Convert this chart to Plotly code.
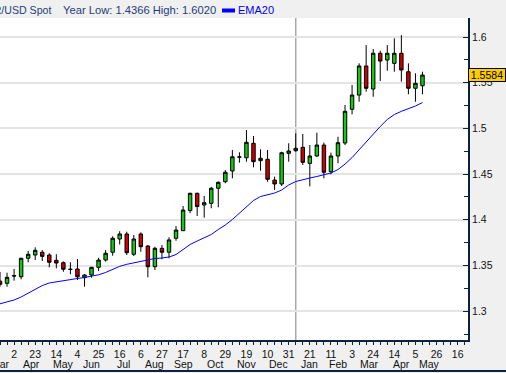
import pandas as pd
import plotly.graph_objects as go

# ---------------- data (weekly candles, Monday dates) ----------------
dates = pd.date_range("2007-03-19", periods=61, freq="7D")

opens = [1.3330, 1.3305, 1.3385, 1.3377, 1.3579, 1.3615, 1.3645, 1.3615, 1.3557, 1.3531,
         1.3460, 1.3462, 1.3367, 1.3396, 1.3480, 1.3560, 1.3645, 1.3790, 1.3845, 1.3623,
         1.3845, 1.3713, 1.3487, 1.3688, 1.3645, 1.3798, 1.3881, 1.4101, 1.4290, 1.4162,
         1.4180, 1.4345, 1.4417, 1.4534, 1.4685, 1.4679, 1.4837, 1.4647, 1.4662, 1.4435,
         1.4392, 1.4727, 1.4756, 1.4793, 1.4618, 1.4698, 1.4818, 1.4526, 1.4698, 1.4840,
         1.5209, 1.5365, 1.5683, 1.5431, 1.5822, 1.5748, 1.5712, 1.5822, 1.5620, 1.5439, 1.5467]
highs = [1.3430, 1.3421, 1.3462, 1.3585, 1.3659, 1.3699, 1.3669, 1.3634, 1.3623, 1.3545,
         1.3535, 1.3571, 1.3405, 1.3485, 1.3585, 1.3669, 1.3820, 1.3875, 1.3870, 1.3834,
         1.3863, 1.3724, 1.3706, 1.3724, 1.3809, 1.3932, 1.4151, 1.4297, 1.4297, 1.4260,
         1.4360, 1.4420, 1.4545, 1.4764, 1.4739, 1.4982, 1.4917, 1.4771, 1.4764, 1.4472,
         1.4745, 1.4837, 1.4946, 1.4939, 1.4818, 1.4953, 1.4845, 1.4735, 1.4909, 1.5256,
         1.5475, 1.5712, 1.5912, 1.5869, 1.5850, 1.5912, 1.5986, 1.6020, 1.5712, 1.5603, 1.5620]
lows = [1.3268, 1.3268, 1.3334, 1.3349, 1.3535, 1.3560, 1.3549, 1.3480, 1.3469, 1.3432,
        1.3404, 1.3341, 1.3268, 1.3367, 1.3439, 1.3542, 1.3607, 1.3730, 1.3615, 1.3604,
        1.3651, 1.3371, 1.3451, 1.3568, 1.3579, 1.3771, 1.3880, 1.4073, 1.4042, 1.4023,
        1.4126, 1.4137, 1.4400, 1.4454, 1.4625, 1.4636, 1.4575, 1.4537, 1.4417, 1.4326,
        1.4370, 1.4636, 1.4745, 1.4600, 1.4366, 1.4690, 1.4454, 1.4498, 1.4618, 1.4818,
        1.5154, 1.5292, 1.5402, 1.5347, 1.5519, 1.5631, 1.5620, 1.5511, 1.5373, 1.5292, 1.5373]
closes = [1.3294, 1.3371, 1.3388, 1.3579, 1.3623, 1.3666, 1.3600, 1.3535, 1.3527, 1.3459,
          1.3457, 1.3377, 1.3396, 1.3480, 1.3560, 1.3634, 1.3798, 1.3845, 1.3640, 1.3790,
          1.3706, 1.3487, 1.3688, 1.3645, 1.3780, 1.3888, 1.4107, 1.4290, 1.4145, 1.4187,
          1.4345, 1.4410, 1.4520, 1.4690, 1.4688, 1.4848, 1.4636, 1.4673, 1.4443, 1.4392,
          1.4734, 1.4753, 1.4782, 1.4629, 1.4698, 1.4818, 1.4520, 1.4698, 1.4844, 1.5187,
          1.5365, 1.5683, 1.5439, 1.5822, 1.5737, 1.5822, 1.5822, 1.5639, 1.5439, 1.5493, 1.5584]
ema20 = [1.3081, 1.3101, 1.3123, 1.3155, 1.3194, 1.3237, 1.3281, 1.3309, 1.3323, 1.3336,
         1.3349, 1.3358, 1.3369, 1.3380, 1.3398, 1.3424, 1.3456, 1.3491, 1.3513, 1.3527,
         1.3544, 1.3560, 1.3577, 1.3582, 1.3593, 1.3620, 1.3675, 1.3730, 1.3768, 1.3801,
         1.3839, 1.3894, 1.3943, 1.4003, 1.4069, 1.4145, 1.4211, 1.4255, 1.4276, 1.4293,
         1.4326, 1.4381, 1.4419, 1.4441, 1.4457, 1.4474, 1.4490, 1.4512, 1.4550, 1.4610,
         1.4681, 1.4769, 1.4857, 1.4939, 1.5021, 1.5097, 1.5152, 1.5187, 1.5212, 1.5245, 1.5283]

last_price = 1.5584
y_tick_vals = [1.3, 1.35, 1.4, 1.45, 1.5, 1.55, 1.6]
y_tick_text = ["1.3", "1.35", "1.4", "1.45", "1.5", "1.55", "1.6"]
month_names = ["Mar", "Apr", "May", "Jun", "Jul", "Aug", "Sep", "Oct", "Nov", "Dec",
               "Jan", "Feb", "Mar", "Apr", "May"]
title_left = "EUR/USD Spot"
title_mid = "Year Low: 1.4366 High: 1.6020"
legend_name = "EMA20"

# ---------------- layout helpers ----------------
W, H = 506, 373
ML, MR, MT, MB = 0, 38, 18, 33
PW, PH = W - ML - MR, H - MT - MB
x_range = ["2007-03-19", "2008-06-26 06:00"]
y_range = [1.2685, 1.6208]
NAVY = "#0c2340"
GRID = "#e4e4e4"
FONT = "Liberation Sans, Arial, sans-serif"


def px_x(p):
    return (p - ML) / PW


def px_y(p):
    return (H - MB - p) / PH


# first Monday of every month -> grid lines; month names centred between them
month_starts = pd.date_range("2007-03-01", "2008-07-01", freq="MS")
first_mondays = [pd.offsets.Week(weekday=0).rollforward(d) for d in month_starts]
month_mid = [first_mondays[i] + (first_mondays[i + 1] - first_mondays[i]) / 2
             for i in range(len(month_names))]

fig = go.Figure()
fig.add_trace(go.Candlestick(
    x=dates, open=opens, high=highs, low=lows, close=closes,
    increasing=dict(fillcolor="#14c814", line=dict(color="black", width=1)),
    decreasing=dict(fillcolor="#cc0000", line=dict(color="black", width=1)),
    whiskerwidth=0, showlegend=False, hoverinfo="skip"))
fig.add_trace(go.Scatter(
    x=dates, y=ema20, mode="lines", name=legend_name,
    line=dict(color="#0000ff", width=1), showlegend=False, hoverinfo="skip"))

annotations = []
annotations.append(dict(text=title_left, xref="paper", yref="paper", x=px_x(51), y=px_y(10),
                        xanchor="right", yanchor="middle", showarrow=False, borderpad=0, borderwidth=0,
                        font=dict(family=FONT, size=10.6, color="#1f3d7a")))
annotations.append(dict(text=title_mid, xref="paper", yref="paper", x=px_x(62.5), y=px_y(10),
                        xanchor="left", yanchor="middle", showarrow=False, borderpad=0, borderwidth=0,
                        font=dict(family=FONT, size=11.2, color="#1f3d7a")))
annotations.append(dict(text=legend_name, xref="paper", yref="paper", x=px_x(238), y=px_y(10),
                        xanchor="left", yanchor="middle", showarrow=False, borderpad=0, borderwidth=0,
                        font=dict(family=FONT, size=11, color="#0000ee")))
annotations.append(dict(text=f"{last_price:.4f}", xref="paper", yref="y", x=1.0, y=last_price,
                        xanchor="left", yanchor="middle", showarrow=False,
                        bgcolor="#ffcc00", bordercolor="black", borderwidth=1, borderpad=1,
                        width=34, height=10, font=dict(family=FONT, size=10.5, color="black")))
for name, mid in zip(month_names, month_mid):
    annotations.append(dict(text=name, xref="x", yref="paper", x=mid, y=px_y(364),
                            xanchor="center", yanchor="middle", showarrow=False,
                            borderpad=0, borderwidth=0,
                            font=dict(family=FONT, size=10.5, color="#111111")))

shapes = [
    # year separator
    dict(type="line", xref="x", yref="paper", x0="2008-01-07", x1="2008-01-07", y0=0, y1=1,
         line=dict(color="#a8a8a8", width=1.5), layer="below"),
    # bottom frame line
    dict(type="line", xref="paper", yref="paper", x0=0, x1=W / PW, y0=px_y(371), y1=px_y(371),
         line=dict(color=NAVY, width=2)),
    # legend swatch
    dict(type="rect", xref="paper", yref="paper", x0=px_x(222), x1=px_x(235),
         y0=px_y(12.5), y1=px_y(8.5), line=dict(width=0), fillcolor="#0000ff"),
]

fig.update_layout(
    width=W, height=H,
    margin=dict(l=ML, r=MR, t=MT, b=MB, pad=0),
    paper_bgcolor="#f0f0f0", plot_bgcolor="white",
    font=dict(family=FONT, size=10.5, color="#111111"),
    showlegend=False,
    xaxis=dict(type="date", range=x_range, rangeslider=dict(visible=False),
               showgrid=False, zeroline=False, showline=True, linecolor=NAVY, linewidth=2,
               ticks="outside", ticklen=3, tickcolor=NAVY, tickwidth=1,
               tick0="2007-04-02", dtick=21 * 86400000, tickformat="%-d",
               minor=dict(ticks="outside", ticklen=3, tickcolor=NAVY, tickwidth=1,
                          tick0="2007-04-02", dtick=7 * 86400000, showgrid=False),
               fixedrange=True),
    xaxis2=dict(type="date", overlaying="x", anchor="y", side="top", range=x_range,
                tickmode="array", tickvals=first_mondays, showticklabels=False, ticks="",
                showgrid=True, gridcolor=GRID, gridwidth=2,
                showline=True, linecolor="#8a8a8a", linewidth=1, zeroline=False),
    yaxis=dict(side="right", anchor="x", range=y_range,
               tickmode="array", tickvals=y_tick_vals, ticktext=y_tick_text,
               showgrid=True, gridcolor=GRID, gridwidth=2, zeroline=False,
               ticks="inside", ticklen=5, tickcolor=NAVY, tickwidth=1,
               minor=dict(ticks="inside", ticklen=4, tickcolor=NAVY, dtick=0.025, tick0=1.3,
                          showgrid=False),
               showline=True, linecolor=NAVY, linewidth=2),
    annotations=annotations,
    shapes=shapes,
)

fig.write_html("out.html", config={"displayModeBar": False, "staticPlot": True},
               post_script="document.body.style.margin='0';document.body.style.padding='0';")
